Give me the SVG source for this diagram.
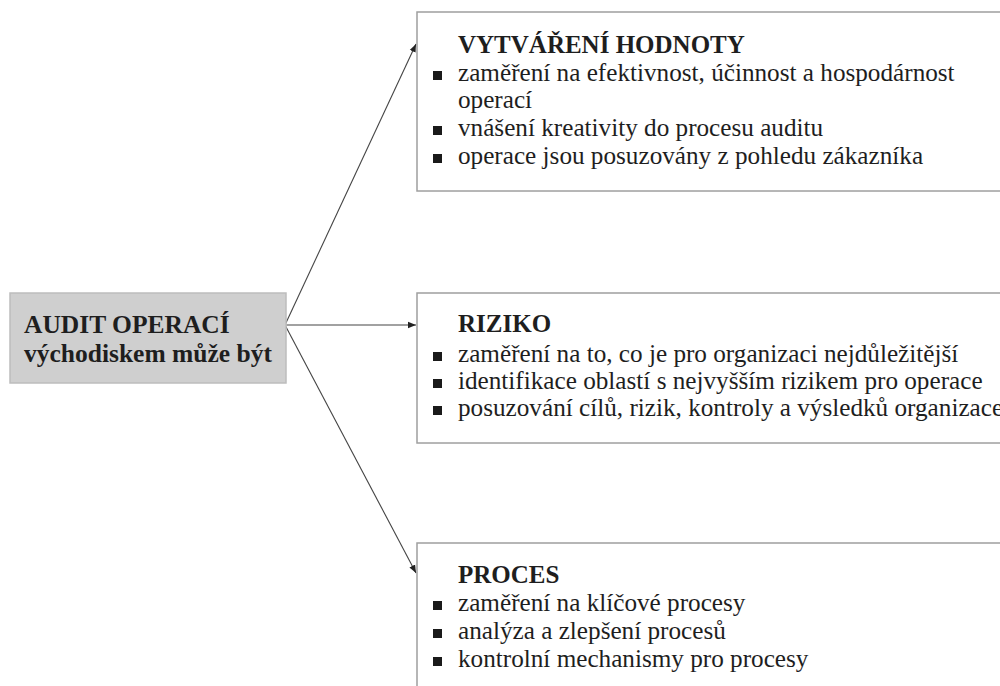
<svg xmlns="http://www.w3.org/2000/svg" width="1000" height="686" viewBox="0 0 1000 686">
<style>
.box{fill:#fff;stroke:#9f9f9f;stroke-width:1.5}
.src{fill:#cfcfcf;stroke:#bdbdbd;stroke-width:1.5}
.bul{fill:#1a1a1a}
.con{stroke:#444;stroke-width:1.1;fill:none;marker-end:url(#ah)}
</style>
<defs>
<marker id="ah" viewBox="0 0 10 10" refX="10" refY="5" markerWidth="8" markerHeight="8" markerUnits="userSpaceOnUse" orient="auto">
<path d="M0,1 L10,5 L0,9 z" fill="#222"/>
</marker>
</defs>
<rect width="1000" height="686" fill="#fff"/>
<g id="connectors">
<line class="con" x1="285" y1="325" x2="416" y2="44"/>
<line class="con" x1="285" y1="325" x2="416" y2="325"/>
<line class="con" x1="285" y1="325" x2="416" y2="573"/>
</g>
<g id="audit" font-family="Liberation Serif, serif" font-size="25.5" font-weight="bold" fill="#1e1e1e">
<rect class="src" x="10" y="293" width="276" height="90"/>
<text x="24" y="333">AUDIT OPERACÍ</text>
<text x="24" y="362">východiskem může být</text>
</g>
<g id="hodnota" font-family="Liberation Serif, serif" font-size="25.2" fill="#1e1e1e">
<rect class="box" x="417" y="12" width="600" height="179"/>
<text x="458" y="53" font-weight="bold" font-size="25">VYTVÁŘENÍ HODNOTY</text>
<rect class="bul" x="433" y="71" width="9" height="9"/>
<text x="458" y="81">zaměření na efektivnost, účinnost a hospodárnost</text>
<text x="458" y="108">operací</text>
<rect class="bul" x="433" y="126" width="9" height="9"/>
<text x="458" y="136">vnášení kreativity do procesu auditu</text>
<rect class="bul" x="433" y="154" width="9" height="9"/>
<text x="458" y="164">operace jsou posuzovány z pohledu zákazníka</text>
</g>
<g id="riziko" font-family="Liberation Serif, serif" font-size="25.2" fill="#1e1e1e">
<rect class="box" x="417" y="293" width="600" height="150"/>
<text x="458" y="332" font-weight="bold" font-size="25">RIZIKO</text>
<rect class="bul" x="433" y="352" width="9" height="9"/>
<text x="458" y="362">zaměření na to, co je pro organizaci nejdůležitější</text>
<rect class="bul" x="433" y="379" width="9" height="9"/>
<text x="458" y="389">identifikace oblastí s nejvyšším rizikem pro operace</text>
<rect class="bul" x="433" y="406" width="9" height="9"/>
<text x="458" y="416">posuzování cílů, rizik, kontroly a výsledků organizace</text>
</g>
<g id="proces" font-family="Liberation Serif, serif" font-size="25.2" fill="#1e1e1e">
<rect class="box" x="417" y="543" width="600" height="160"/>
<text x="458" y="583" font-weight="bold" font-size="25">PROCES</text>
<rect class="bul" x="433" y="601" width="9" height="9"/>
<text x="458" y="611">zaměření na klíčové procesy</text>
<rect class="bul" x="433" y="629" width="9" height="9"/>
<text x="458" y="639">analýza a zlepšení procesů</text>
<rect class="bul" x="433" y="657" width="9" height="9"/>
<text x="458" y="667">kontrolní mechanismy pro procesy</text>
</g>
</svg>
